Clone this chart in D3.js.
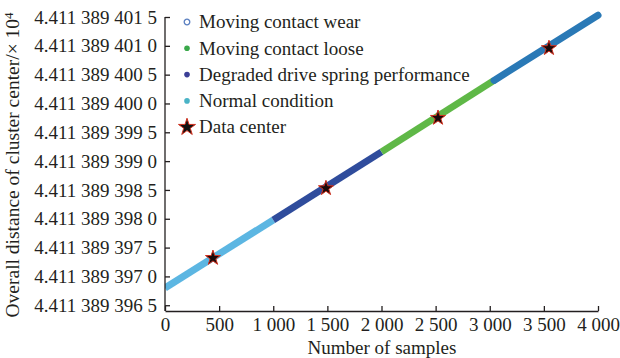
<!DOCTYPE html>
<html>
<head>
<meta charset="utf-8">
<script src="https://cdn.jsdelivr.net/npm/d3@7"></script>
<style>
body { margin: 0; background: #fff; }
text { font-family: "Liberation Serif", "Times New Roman", serif; fill: #231f20; }
</style>
</head>
<body>
<svg></svg>
<script>
// axis ticks (values in last digits of 4.411 389 xxx x)
var yTicks = [396.5, 397, 397.5, 398, 398.5, 399, 399.5, 400, 400.5, 401, 401.5];
var yTickLabels = ["4.411 389 396 5", "4.411 389 397 0", "4.411 389 397 5", "4.411 389 398 0",
  "4.411 389 398 5", "4.411 389 399 0", "4.411 389 399 5", "4.411 389 400 0",
  "4.411 389 400 5", "4.411 389 401 0", "4.411 389 401 5"];
var xTicks = [0, 500, 1000, 1500, 2000, 2500, 3000, 3500, 4000];
var xTickLabels = ["0", "500", "1 000", "1 500", "2 000", "2 500", "3 000", "3 500", "4 000"];

// series segments
var segNames = ["Normal condition", "Degraded drive spring performance", "Moving contact loose", "Moving contact wear"];
var segStart = [0, 1000, 2000, 3040];
var segEnd = [1000, 2000, 3040, 4000];
var segStartValue = [396.80, 397.98, 399.16, 400.40];
var segEndValue = [397.98, 399.16, 400.40, 401.53];
var segColors = ["#5cb6e2", "#2f4c9c", "#5fb847", "#2a79b6"];

// data centers
var centerSamples = [443, 1487, 2522, 3547];
var centerValues = [397.32, 398.53, 399.75, 400.96];

var legendLabels = ["Moving contact wear", "Moving contact loose", "Degraded drive spring performance", "Normal condition", "Data center"];
var legendColors = ["#5a7fc0", "#3aa84a", "#3b3e96", "#4ab3c6", "#111"];

var svgWidth = 620;
var svgHeight = 358;
var fontSize = "19px";

var svg = d3.select("svg")
  .attr("width", svgWidth)
  .attr("height", svgHeight);

var xScale = d3.scaleLinear().domain([0, 4000]).range([165, 598]);
var yScale = d3.scaleLinear().domain([396.4, 401.5]).range([311, 17]);

// segments
svg.append("clipPath").attr("id", "clip")
  .append("rect").attr("x", 165).attr("y", 0).attr("width", 455).attr("height", 311);

svg.append("g").attr("clip-path", "url(#clip)")
  .selectAll("line")
  .data(segNames)
  .enter()
  .append("line")
  .attr("x1", function(d, i) { return xScale(segStart[i]); })
  .attr("y1", function(d, i) { return yScale(segStartValue[i]); })
  .attr("x2", function(d, i) { return xScale(segEnd[i]); })
  .attr("y2", function(d, i) { return yScale(segEndValue[i]); })
  .attr("stroke", function(d, i) { return segColors[i]; })
  .attr("stroke-width", 7)
  .attr("stroke-linecap", function(d, i) { return i == 3 ? "round" : "butt"; });

// axes
var yAxis = d3.axisLeft(yScale)
  .tickValues(yTicks)
  .tickFormat(function(d, i) { return yTickLabels[i]; })
  .tickSizeInner(-5)
  .tickSizeOuter(0)
  .tickPadding(8);

var xAxis = d3.axisBottom(xScale)
  .tickValues(xTicks)
  .tickFormat(function(d, i) { return xTickLabels[i]; })
  .tickSizeInner(-5)
  .tickSizeOuter(0)
  .tickPadding(7);

var gy = svg.append("g").attr("transform", "translate(165,0)").call(yAxis);
var gx = svg.append("g").attr("transform", "translate(0,311)").call(xAxis);

[gx, gy].forEach(function(g) {
  g.selectAll("path, line").attr("stroke", "#231f20").attr("stroke-width", 1.3);
  g.selectAll("text").attr("font-family", "Liberation Serif").attr("font-size", fontSize).attr("fill", "#231f20");
});
gy.select(".domain").attr("d", "M0," + yScale(396.4) + "V" + yScale(401.5));

// data center stars
var star = d3.symbol().type(d3.symbolStar).size(70);
svg.selectAll("path.center")
  .data(centerValues)
  .enter()
  .append("path")
  .attr("class", "center")
  .attr("d", star)
  .attr("transform", function(d, i) {
    return "translate(" + xScale(centerSamples[i]) + "," + yScale(d) + ")";
  })
  .attr("fill", "#1a0a0a")
  .attr("stroke", "#d2311f")
  .attr("stroke-width", 1);

// legend
var legend = svg.append("g");
var rows = legend.selectAll("g")
  .data(legendLabels)
  .enter()
  .append("g")
  .attr("transform", function(d, i) { return "translate(187," + (22 + i * 26.3) + ")"; });

rows.each(function(d, i) {
  var g = d3.select(this);
  if (i == 0) {
    g.append("circle").attr("r", 2.8).attr("fill", "none").attr("stroke", legendColors[i]).attr("stroke-width", 1.3);
  } else if (i < 4) {
    g.append("circle").attr("r", 2.8).attr("fill", legendColors[i]);
  } else {
    g.append("path").attr("d", d3.symbol().type(d3.symbolStar).size(90))
      .attr("fill", "#111").attr("stroke", "#d2311f").attr("stroke-width", 1);
  }
  g.append("text")
    .attr("x", 12)
    .attr("dy", "0.33em")
    .attr("font-size", fontSize)
    .text(d);
});

// axis titles
svg.append("text")
  .attr("x", 382)
  .attr("y", 354)
  .attr("text-anchor", "middle")
  .attr("font-size", fontSize)
  .text("Number of samples");

var yTitle = svg.append("text")
  .attr("transform", "translate(19,165) rotate(-90)")
  .attr("text-anchor", "middle")
  .attr("font-size", "19.5px");
yTitle.append("tspan").text("Overall distance of cluster center/\u00d7 10");
yTitle.append("tspan").attr("dy", "-0.45em").attr("font-size", "13px").text("4");
</script>
</body>
</html>
